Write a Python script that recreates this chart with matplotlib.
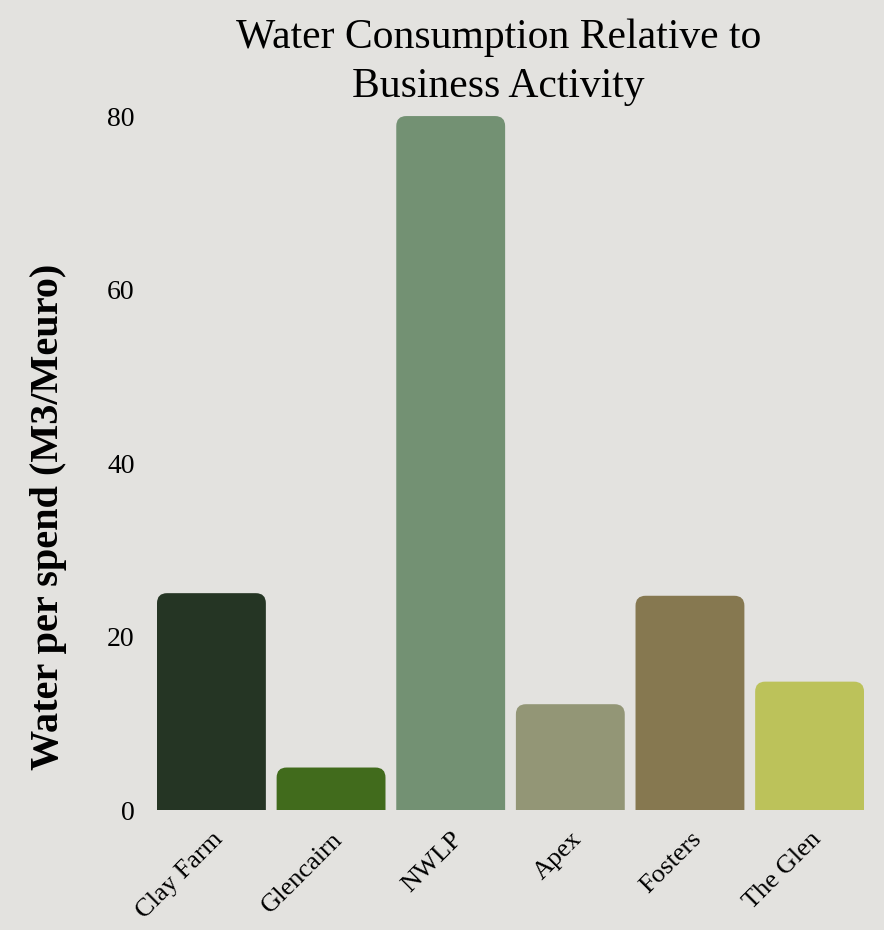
import matplotlib.pyplot as plt
from matplotlib.patches import FancyBboxPatch

# dane
sites = ['Clay Farm', 'Glencairn', 'NWLP', 'Apex', 'Fosters', 'The Glen']
water_per_spend = [25.0, 4.9, 80.0, 12.2, 24.7, 14.8]
colors = ['#253524', '#416B1C', '#739173', '#939676', '#867850', '#BCC25A']

bg = '#E3E2DF'
plt.rcParams['font.family'] = ['Liberation Serif', 'DejaVu Serif']

fig = plt.figure(figsize=(8.84, 9.3), dpi=100, facecolor=bg)
ax = fig.add_axes([0.1776, 0.129, 0.7998, 0.7462], facecolor=bg)

bar_w = 0.91
bars = ax.bar(range(len(sites)), water_per_spend, width=bar_w, color=colors)
ax.set_xlim(-bar_w / 2, len(sites) - 1 + bar_w / 2)
ax.set_ylim(0, 80)

# zaokraglone gorne rogi - zamieniamy prostokaty na FancyBboxPatch
fig.canvas.draw()
x0, x1 = ax.get_xlim()
y0, y1 = ax.get_ylim()
bbox = ax.get_window_extent()
px_x = (x1 - x0) / bbox.width
px_y = (y1 - y0) / bbox.height
r_px = 10
for b in bars:
    x, w, h = b.get_x(), b.get_width(), b.get_height()
    fc = b.get_facecolor()
    b.set_visible(False)
    ext = 3
    p = FancyBboxPatch((x, -ext), w, h + ext,
                       boxstyle=f'round,pad=0,rounding_size={r_px * px_x}',
                       mutation_aspect=px_y / px_x,
                       facecolor=fc, edgecolor='none', clip_on=True)
    ax.add_patch(p)

for s in ax.spines.values():
    s.set_visible(False)
ax.tick_params(length=0)
ax.set_yticks([0, 20, 40, 60, 80])
ax.tick_params(axis='y', labelsize=20, pad=16)
ax.set_xticks(range(len(sites)))
ax.set_xticklabels(sites, rotation=45, ha='right', rotation_mode='anchor', fontsize=19)
ax.tick_params(axis='x', pad=13)

ax.set_ylabel('Water per spend (M3/Meuro)', fontsize=29, fontweight='bold')
ax.yaxis.set_label_coords(-0.127, 0.422)
ax.set_title('Water Consumption Relative to\nBusiness Activity', fontsize=30,
             x=0.483, pad=14, linespacing=1.35)

fig.savefig('out.png', dpi=100, facecolor=bg)
